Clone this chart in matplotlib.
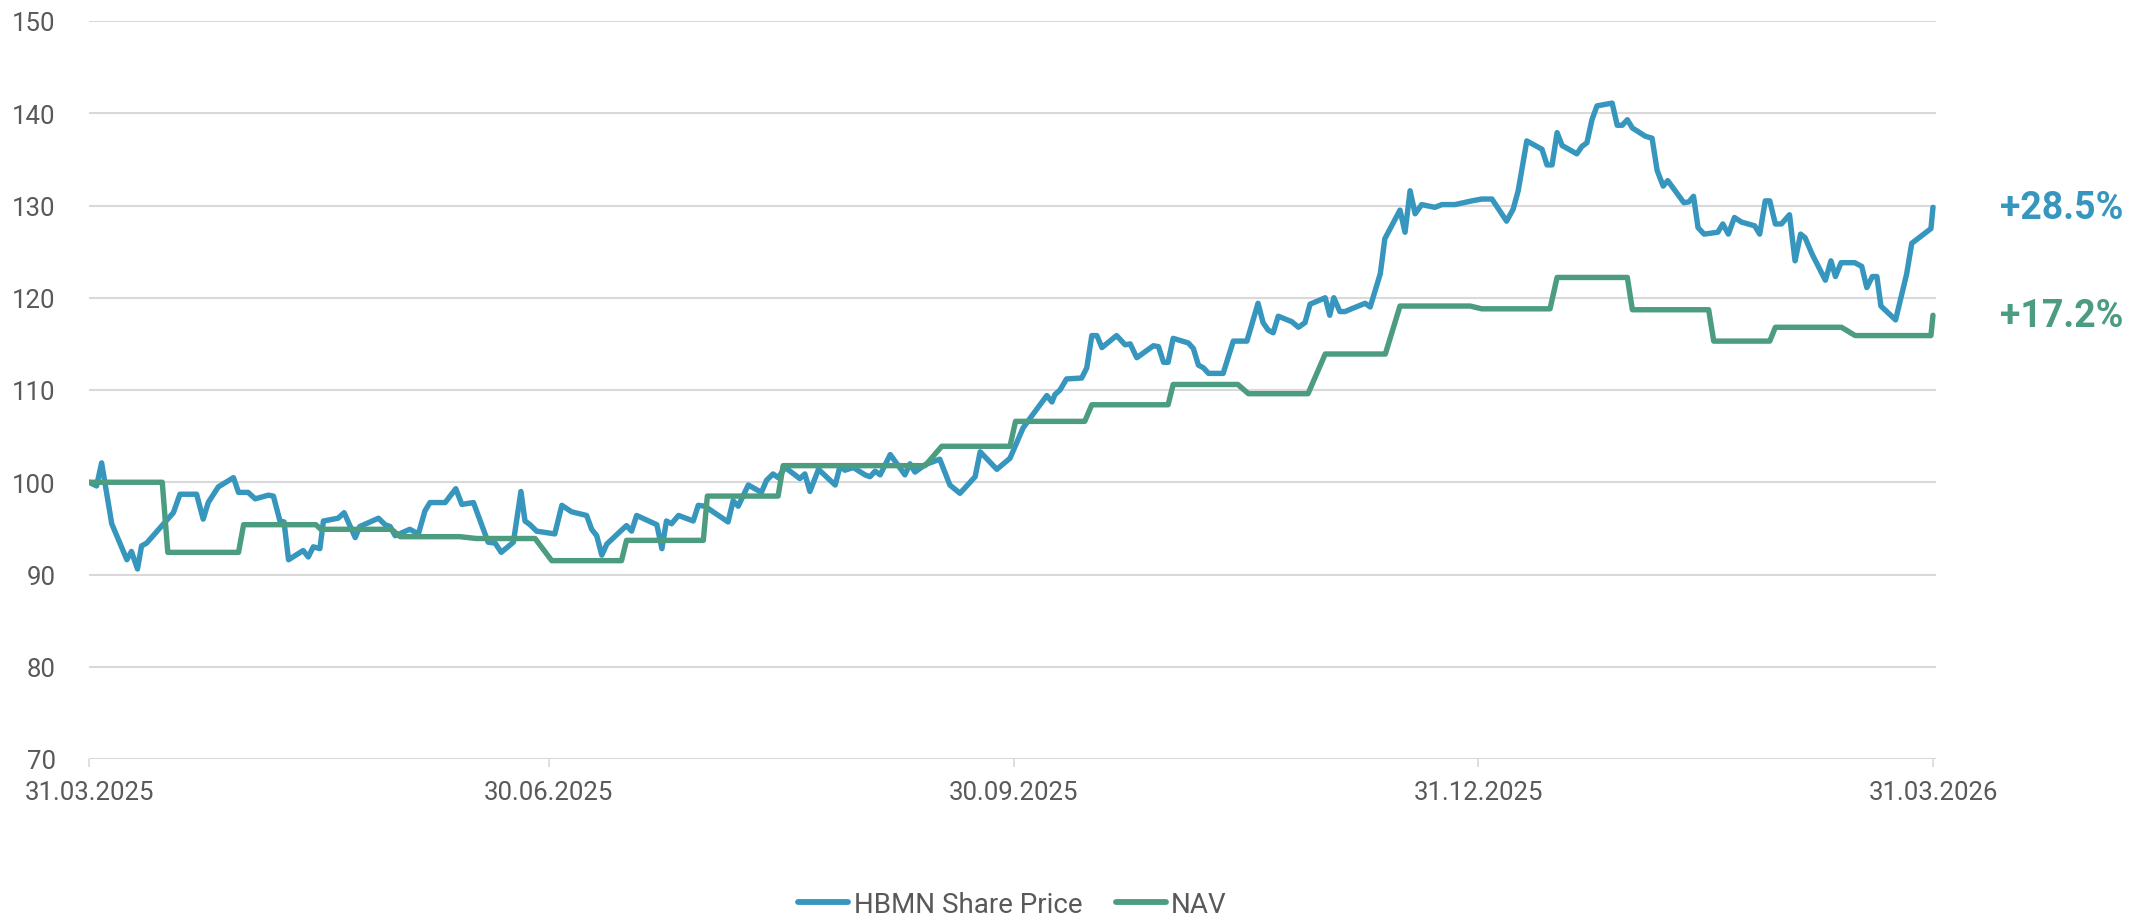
import matplotlib
matplotlib.use("Agg")
import matplotlib.pyplot as plt
import matplotlib.dates as mdates
import pandas as pd

plt.rcParams['font.family'] = ['Roboto', 'DejaVu Sans']

start = pd.Timestamp('2025-03-31')

# days after 31.03.2025 / indexed value
price_days = [0, 1.5, 2.5, 4.5, 7.5, 8.4, 9.6, 10.4, 11.4, 16.7, 18.0, 21.3, 22.6, 23.6, 25.6,
              28.6, 29.6, 31.5, 32.9, 35.5, 36.5, 37.8, 38.6, 39.5, 42.4, 43.4, 44.4, 45.7,
              46.4, 49.3, 50.5, 52.7, 53.6, 57.3, 58.6, 59.6, 60.6, 63.5, 65.2, 66.5, 67.5,
              70.5, 72.6, 73.8, 76.1, 79.0, 80.4, 81.6, 84.0, 85.5, 86.3, 87.3, 88.6, 92.2,
              93.6, 95.5, 98.5, 99.5, 100.5, 101.5, 102.5, 105.4, 106.4, 107.4, 108.4, 112.4,
              113.4, 114.3, 115.3, 116.7, 119.6, 120.6, 121.9, 126.5, 127.5, 128.5, 130.5,
              133.1, 134.1, 135.4, 136.4, 137.8, 140.7, 141.7, 142.7, 144.4, 147.7, 148.7,
              149.6, 151.3, 153.6, 154.6, 155.6, 156.6, 158.6, 161.5, 162.5, 163.5, 165.5,
              168.4, 170.4, 172.4, 175.4, 176.4, 179.7, 182.3, 184.9, 186.9, 189.6, 190.6,
              191.2, 192.2, 193.5, 196.5, 197.5, 198.5, 199.5, 200.5, 203.4, 205.1, 206.1,
              207.4, 210.7, 211.7, 212.7, 213.6, 214.6, 217.6, 218.6, 219.6, 220.6, 221.6,
              224.5, 226.5, 229.2, 231.4, 232.4, 233.4, 234.4, 235.4, 238.1, 239.4, 240.7,
              241.7, 244.7, 245.6, 246.4, 247.6, 248.6, 249.9, 252.6, 253.6, 255.6, 256.5,
              259.5, 260.5, 261.5, 262.5, 263.8, 266.4, 267.8, 270.4, 273.7, 275.7, 277.7,
              280.6, 281.9, 282.9, 284.6, 287.6, 288.6, 289.6, 290.6, 291.6, 294.5, 295.5,
              296.5, 297.5, 298.5, 301.5, 302.5, 303.5, 304.5, 305.5, 308.1, 309.4, 310.4,
              311.6, 312.5, 315.7, 316.7, 317.6, 318.5, 319.7, 322.4, 323.4, 324.5, 325.7,
              327.1, 329.7, 330.7, 331.8, 332.7, 333.8, 335.0, 336.6, 337.7, 338.8, 339.7,
              341.1, 343.7, 344.8, 345.7, 346.8, 349.5, 350.9, 351.9, 353.0, 353.9, 354.7,
              357.6, 359.8, 360.8, 364.6, 365.0]
price_vals = [100.0, 99.6, 102.1, 95.5, 91.6, 92.5, 90.6, 93.1, 93.4, 96.7, 98.7, 98.7, 96.0,
              97.8, 99.5, 100.5, 98.9, 98.9, 98.2, 98.6, 98.5, 95.8, 95.7, 91.6, 92.6, 91.9,
              93.0, 92.8, 95.8, 96.1, 96.7, 94.0, 95.2, 96.1, 95.4, 95.2, 94.2, 94.9, 94.4,
              96.9, 97.8, 97.8, 99.3, 97.6, 97.8, 93.5, 93.4, 92.4, 93.5, 99.0, 95.8, 95.4,
              94.7, 94.4, 97.5, 96.8, 96.4, 94.9, 94.2, 92.1, 93.3, 94.8, 95.3, 94.7, 96.4,
              95.4, 92.8, 95.8, 95.5, 96.4, 95.8, 97.5, 97.4, 95.7, 98.0, 97.4, 99.7, 98.9,
              100.2, 100.9, 100.5, 101.6, 100.4, 100.9, 99.0, 101.4, 99.7, 101.8, 101.3,
              101.6, 100.8, 100.6, 101.2, 100.8, 103.0, 100.8, 102.0, 101.1, 101.9, 102.5,
              99.7, 98.8, 100.6, 103.3, 101.4, 102.6, 105.9, 107.4, 109.4, 108.7, 109.5,
              110.0, 111.2, 111.3, 112.4, 115.9, 115.9, 114.6, 115.9, 114.9, 115.0, 113.5,
              114.8, 114.7, 113.0, 113.0, 115.6, 115.1, 114.5, 112.7, 112.4, 111.8, 111.8,
              115.3, 115.3, 119.4, 117.3, 116.5, 116.2, 118.0, 117.4, 116.8, 117.3, 119.3,
              120.0, 118.1, 120.0, 118.5, 118.5, 118.8, 119.4, 119.0, 122.6, 126.4, 129.5,
              127.1, 131.6, 129.1, 130.1, 129.8, 130.1, 130.1, 130.5, 130.7, 130.7, 128.3,
              129.6, 131.6, 137.0, 136.1, 134.4, 134.4, 137.9, 136.5, 135.6, 136.4, 136.8,
              139.3, 140.8, 141.1, 138.7, 138.7, 139.3, 138.4, 137.5, 137.3, 133.8, 132.1,
              132.7, 130.3, 130.4, 131.0, 127.6, 126.9, 127.1, 128.0, 126.9, 128.7, 128.2,
              127.8, 126.9, 130.5, 130.5, 128.0, 128.0, 129.0, 124.0, 126.9, 126.5, 124.7,
              121.9, 124.0, 122.3, 123.8, 123.8, 123.4, 121.1, 122.3, 122.3, 119.1, 117.6,
              122.6, 125.9, 127.5, 129.8]

nav_days = [0, 14.5, 15.6, 29.6, 30.6, 44.9, 45.9, 59.9, 61.6, 73.4, 76.7, 88.3, 91.6, 105.4,
            106.4, 121.6, 122.4, 136.4, 137.4, 165.5, 168.8, 182.3, 183.4, 197.1, 198.5,
            213.6, 214.6, 227.4, 229.5, 241.3, 244.7, 256.6, 259.5, 273.4, 275.7, 289.2,
            290.6, 304.5, 305.5, 320.6, 321.6, 332.7, 333.8, 346.9, 349.6, 364.6, 365.0]
nav_vals = [100.0, 100.0, 92.4, 92.4, 95.4, 95.4, 94.9, 94.9, 94.1, 94.1, 93.9, 93.9, 91.5,
            91.5, 93.7, 93.7, 98.5, 98.5, 101.8, 101.8, 103.9, 103.9, 106.6, 106.6, 108.4,
            108.4, 110.6, 110.6, 109.6, 109.6, 113.9, 113.9, 119.1, 119.1, 118.8, 118.8,
            122.2, 122.2, 118.7, 118.7, 115.3, 115.3, 116.8, 116.8, 115.9, 115.9, 118.1]

series_names = ['HBMN Share Price', 'NAV']
end_labels = ['+28.5%', '+17.2%']
tick_dates = ['2025-03-31', '2025-06-30', '2025-09-30', '2025-12-31', '2026-03-31']

blue = '#3796be'
green = '#4c9c80'
grey_txt = '#595959'
grid_c = '#d9d9d9'

price_x = start + pd.to_timedelta(price_days, unit='D')
nav_x = start + pd.to_timedelta(nav_days, unit='D')

fig = plt.figure(figsize=(21.56, 9.2), dpi=100)
ax = fig.add_axes([89 / 2156, 160 / 920, (1936 - 89) / 2156, 738 / 920])

ax.plot(price_x, price_vals, color=blue, lw=3.9, label=series_names[0],
        solid_joinstyle='round', solid_capstyle='round', zorder=3)
ax.plot(nav_x, nav_vals, color=green, lw=3.9, label=series_names[1],
        solid_joinstyle='round', solid_capstyle='round', zorder=3)

# end-of-line performance labels
for xs, ys, txt, c in [(price_x, price_vals, end_labels[0], blue),
                       (nav_x, nav_vals, end_labels[1], green)]:
    ax.annotate(txt, xy=(xs[-1], ys[-1]), xytext=(67, 0), textcoords='offset pixels',
                ha='left', va='center', fontsize=27, fontweight='bold', color=c,
                annotation_clip=False)

ax.set_ylim(70, 150)
ax.set_yticks(range(70, 151, 10))
ax.set_xlim(start, start + pd.Timedelta(days=365.6))
ax.set_xticks(pd.to_datetime(tick_dates))
ax.xaxis.set_major_formatter(mdates.DateFormatter('%d.%m.%Y'))

ax.grid(axis='y', color=grid_c, lw=1.5, zorder=0)
ax.set_axisbelow(True)
for s in ax.spines.values():
    s.set_visible(False)

ax.tick_params(axis='y', length=0, pad=24, labelsize=18.5, labelcolor=grey_txt)
ax.tick_params(axis='x', length=6, width=1.2, color=grid_c, pad=9, labelsize=18.5,
               labelcolor=grey_txt)

fig.legend(loc='center', bbox_to_anchor=(1012.5 / 2156, 14.3 / 920), ncol=2, frameon=False,
           fontsize=20, handlelength=1.8, handletextpad=0.2, columnspacing=1.2,
           labelcolor=grey_txt, borderpad=0, borderaxespad=0)
for h in fig.legends[0].legend_handles:
    h.set_linewidth(4.2)
    h.set_solid_capstyle('round')

fig.savefig('out.png', dpi=100)
